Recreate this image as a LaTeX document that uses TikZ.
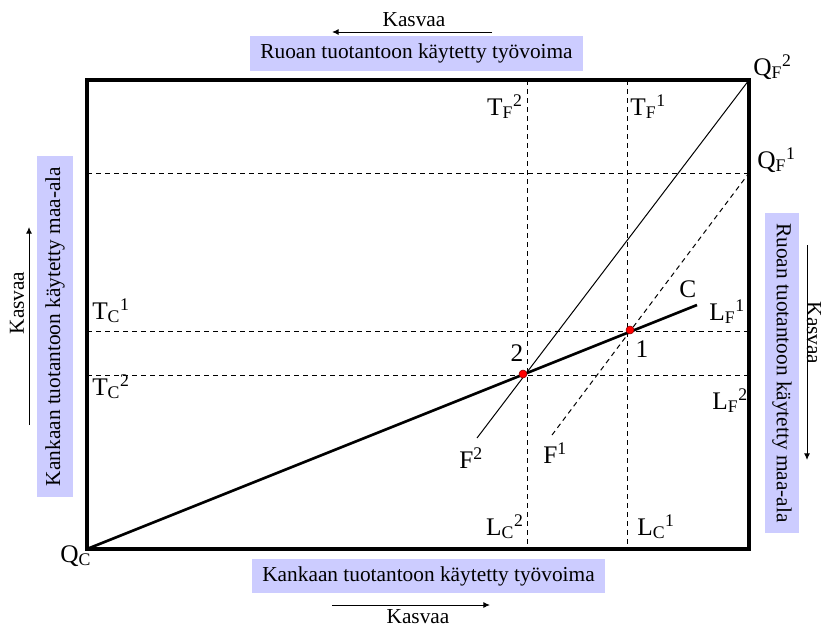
\documentclass[tikz,border=0pt]{standalone}
\usepackage{fontspec}
\setmainfont{Liberation Serif}
\usetikzlibrary{arrows.meta}

\definecolor{boxfill}{RGB}{204,204,255}

\begin{document}
\begin{tikzpicture}[
    x=0.75pt, y=-0.75pt,
    axisbox/.style={fill=boxfill, inner sep=0pt, minimum height=25.5pt, font=\fontsize{16}{19}\selectfont},
    growlbl/.style={inner sep=0pt, font=\fontsize{16}{19}\selectfont},
    growarr/.style={-{Latex[length=5pt, width=4.5pt]}, line width=0.75pt},
    lbl/.style={inner sep=0pt, font=\fontsize{19}{23}\selectfont},
    frame/.style={line width=2.6pt},
    guide/.style={dash pattern=on 3.75pt off 3pt, line width=0.75pt},
    fcurve/.style={line width=0.75pt},
    contract/.style={line width=2pt},
    dot/.style={circle, fill=red, draw=red!55!black, line width=0.4pt, inner sep=0pt, minimum size=6pt},
]
\useasboundingbox (0,0) rectangle (823,628);

% Box corners
\coordinate (QC) at (87,549);
\coordinate (QF2) at (749,80);
\coordinate (QF1) at (749,173);

% Guide line ends
\coordinate (tF2) at (527,80);
\coordinate (lC2) at (527,549);
\coordinate (tF1) at (627,80);
\coordinate (lC1) at (627,549);
\coordinate (tC1) at (87,331);
\coordinate (lF1) at (749,331);
\coordinate (tC2) at (87,375);
\coordinate (lF2) at (749,375);
\coordinate (qF1w) at (87,173);

% Curve ends
\coordinate (cEnd) at (697,305);
\coordinate (f2Low) at (477,438);
\coordinate (f1Low) at (552,435);

% Dashed guides
\draw[guide] (tF2) -- (lC2);
\draw[guide] (tF1) -- (lC1);
\draw[guide] (tC1) -- (lF1);
\draw[guide] (tC2) -- (lF2);
\draw[guide] (qF1w) -- (QF1);

% Edgeworth box
\draw[frame] (QC) rectangle (QF2);

% Contract curve and F curves
\draw[contract] (QC) -- (cEnd);
\draw[fcurve] (f2Low) -- (QF2);
\draw[fcurve, guide] (f1Low) -- (QF1);

% Equilibria
\node[dot] (eq2) at (523,374) {};
\node[dot] (eq1) at (630,330) {};
\node[lbl] (n2) at (517,353.5) {2};
\node[lbl] (n1) at (642,349) {1};

% Point labels
\node[lbl, anchor=base west] (lQC) at (60,562) {Q\textsubscript{C}};
\node[lbl, anchor=base west] (lQF2) at (753,75) {Q\textsubscript{F}\textsuperscript{2}};
\node[lbl, anchor=base west] (lQF1) at (757,168) {Q\textsubscript{F}\textsuperscript{1}};
\node[lbl, anchor=base west] (lTC1) at (92,319) {T\textsubscript{C}\textsuperscript{1}};
\node[lbl, anchor=base west] (lTC2) at (92,395) {T\textsubscript{C}\textsuperscript{2}};
\node[lbl, anchor=base east] (lTF2) at (523,115) {T\textsubscript{F}\textsuperscript{2}};
\node[lbl, anchor=base west] (lTF1) at (630,115) {T\textsubscript{F}\textsuperscript{1}};
\node[lbl, anchor=base east] (lLC2) at (524,535) {L\textsubscript{C}\textsuperscript{2}};
\node[lbl, anchor=base west] (lLC1) at (637,535) {L\textsubscript{C}\textsuperscript{1}};
\node[lbl, anchor=base west] (lLF1) at (709,320) {L\textsubscript{F}\textsuperscript{1}};
\node[lbl, anchor=base west] (lLF2) at (712,409) {L\textsubscript{F}\textsuperscript{2}};
\node[lbl, anchor=base west] (lC) at (679,297) {C};
\node[lbl, anchor=base west] (lF2) at (459,468) {F\textsuperscript{2}};
\node[lbl, anchor=base west] (lF1) at (543,463) {F\textsuperscript{1}};

% Axis titles
\node[axisbox, minimum width=250pt, minimum height=26pt] (labF) at (416.5,53.5) {Ruoan tuotantoon käytetty työvoima};
\node[axisbox, minimum width=265pt] (labC) at (428.5,576) {Kankaan tuotantoon käytetty työvoima};
\node[axisbox, rotate=90, minimum width=256pt, minimum height=27pt] (landC) at (55,326.5) {Kankaan tuotantoon käytetty maa-ala};
\node[axisbox, rotate=-90, minimum width=240pt] (landF) at (782,373) {Ruoan tuotantoon käytetty maa-ala};

% Direction arrows
\node[growlbl] (gTop) at (414,20) {Kasvaa};
\coordinate (gTopA) at (492,32);
\coordinate (gTopB) at (332,32);
\draw[growarr] (gTopA) -- (gTopB);

\node[growlbl] (gBot) at (418,617) {Kasvaa};
\coordinate (gBotA) at (332,605);
\coordinate (gBotB) at (490,605);
\draw[growarr] (gBotA) -- (gBotB);

\node[growlbl, rotate=90] (gLeft) at (17,303) {Kasvaa};
\coordinate (gLeftA) at (29,425);
\coordinate (gLeftB) at (29,227);
\draw[growarr] (gLeftA) -- (gLeftB);

\node[growlbl, rotate=-90] (gRight) at (814,333) {Kasvaa};
\coordinate (gRightA) at (807,245);
\coordinate (gRightB) at (807,460);
\draw[growarr] (gRightA) -- (gRightB);

\end{tikzpicture}
\end{document}
